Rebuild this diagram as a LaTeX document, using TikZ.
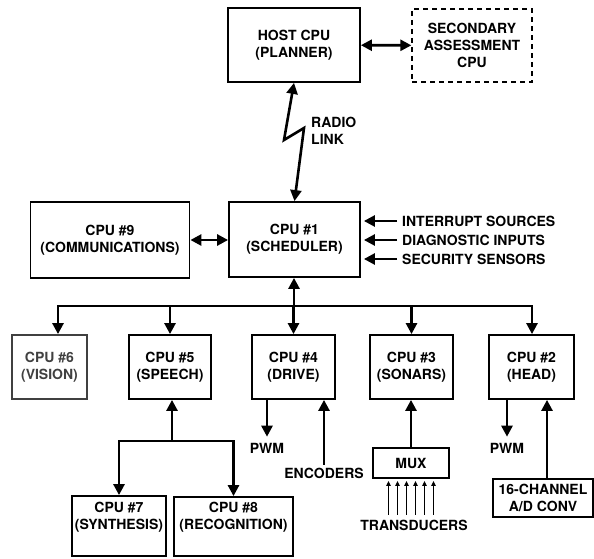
\documentclass[tikz,border=0pt]{standalone}
\usepackage{fontspec}
\setmainfont{TeX Gyre Heros}
\usetikzlibrary{arrows.meta,positioning,calc}

\begin{document}
\begin{tikzpicture}[x=1pt, y=-1pt,
    box/.style={draw, line width=1.8pt, align=center, inner sep=0pt, font=\bfseries\fontsize{14}{17}\selectfont},
    lbl/.style={align=center, inner sep=0pt, font=\bfseries\fontsize{14}{17}\selectfont},
    arr/.style={-{Triangle[length=11pt,width=11pt]}, line width=2.6pt},
    darr/.style={{Triangle[length=11pt,width=11pt]}-{Triangle[length=11pt,width=11pt]}, line width=2.6pt},
    thinarr/.style={-{Triangle[length=5pt,width=4.5pt]}, line width=1.2pt}
]
\useasboundingbox (0,0) rectangle (594,559);

\node[box, minimum width=132pt, minimum height=74pt] (host) at (294,45) {HOST CPU\\(PLANNER)};
\node[box, minimum width=120pt, minimum height=73pt, line width=1.3pt, dash pattern=on 5pt off 4pt] (second) at (472,45.5) {SECONDARY\\ASSESSMENT\\CPU};
\node[box, minimum width=131pt, minimum height=75pt] (cpu1) at (294.5,239.5) {CPU \#1\\(SCHEDULER)};
\node[box, minimum width=159pt, minimum height=76pt] (cpu9) at (110,240) {CPU \#9\\(COMMUNICATIONS)};

\node[box, minimum width=75pt, minimum height=64pt, draw=black!75, text=black!75] (cpu6) at (49.5,367) {CPU \#6\\(VISION)};
\node[box, minimum width=82pt, minimum height=64pt] (cpu5) at (170,367) {CPU \#5\\(SPEECH)};
\node[box, minimum width=83pt, minimum height=64pt] (cpu4) at (293.5,367) {CPU \#4\\(DRIVE)};
\node[box, minimum width=83pt, minimum height=64pt] (cpu3) at (411.5,367) {CPU \#3\\(SONARS)};
\node[box, minimum width=85pt, minimum height=64pt] (cpu2) at (531.5,367) {CPU \#2\\(HEAD)};

\node[box, minimum width=94pt, minimum height=60pt] (cpu7) at (119,526) {CPU \#7\\(SYNTHESIS)\\[4pt]};
\node[box, minimum width=119pt, minimum height=59pt] (cpu8) at (233.5,526.5) {CPU \#8\\(RECOGNITION)\\[4pt]};
\node[box, minimum width=76pt, minimum height=30pt] (mux) at (411,463) {MUX};
\node[box, minimum width=100pt, minimum height=38pt] (adc) at (543,498) {16-CHANNEL\\A/D CONV};

\node[lbl, anchor=west, align=left] (radio) at (311,131) {RADIO\\LINK};
\node[lbl, anchor=west] (in1) at (402,221) {INTERRUPT SOURCES};
\node[lbl, anchor=west] (in2) at (402,240) {DIAGNOSTIC INPUTS};
\node[lbl, anchor=west] (in3) at (402,259) {SECURITY SENSORS};
\node[lbl] (pwm4) at (267,448) {PWM};
\node[lbl] (enc) at (324,473) {ENCODERS};
\node[lbl] (trans) at (414,525) {TRANSDUCERS};
\node[lbl] (pwm2) at (507,448) {PWM};

\coordinate (bus) at (294,306);
\coordinate (d6) at (58,306);
\coordinate (d2) at (532,306);
\coordinate (br) at (172,441);

\draw[darr] (host) -- (second);
\draw[darr] (host.south) -- (284,140) -- (304,128) -- (cpu1.north);
\draw[darr] (cpu9) -- (cpu1.west |- cpu9);
\foreach \n in {in1,in2,in3}
  \draw[arr, shorten <=5pt, shorten >=3pt] (\n.west) -- (\n.west -| cpu1.east);

\draw[arr] (bus) -- (bus |- cpu1.south);
\draw[arr] (bus) -- (d6) -- (d6 |- cpu6.north);
\draw[arr] (bus) -- (d2) -- (d2 |- cpu2.north);
\foreach \n in {cpu5,cpu4,cpu3}
  \draw[arr] (\n.north |- bus) -- (\n.north);

\draw[arr] (br) -- (br |- cpu5.south);
\draw[arr] (br) -| (cpu7.north);
\draw[arr] (br) -| (cpu8.north);

\draw[arr, shorten >=6pt] (pwm4 |- cpu4.south) -- (pwm4.north);
\draw[arr, shorten <=3pt] (enc.north) -- (enc.north |- cpu4.south);
\draw[arr] (mux.north) -- (mux.north |- cpu3.south);
\foreach \dx in {-22.5,-13.5,-4.5,4.5,13.5,22.5} {
  \coordinate (tt) at ([xshift=\dx pt]mux.south);
  \draw[thinarr, shorten <=5pt, shorten >=2pt] (tt |- trans.north) -- (tt);
}
\draw[arr, shorten >=6pt] (pwm2 |- cpu2.south) -- (pwm2.north);
\coordinate (a2) at ([xshift=4pt]adc.north);
\draw[arr] (a2) -- (a2 |- cpu2.south);
\end{tikzpicture}
\end{document}
